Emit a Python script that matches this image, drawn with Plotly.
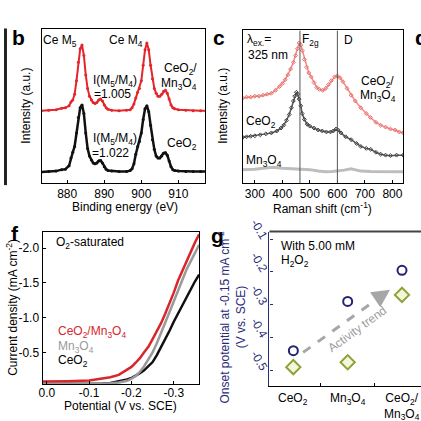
import plotly.graph_objects as go

W = 421
FONT = "Liberation Sans, Arial, sans-serif"
FS = 12

# ---------------- Panel b data (EELS) ----------------
b_energy = [873, 875, 877, 878.5, 879.5, 880.5, 881, 881.5, 882, 882.5, 883, 883.5, 884, 884.5,
            885, 885.5, 886, 886.5, 887, 887.5, 888, 888.5, 889, 889.5, 890, 890.5, 891, 892,
            894, 896, 897, 897.5, 898, 898.5, 899, 899.5, 900, 900.5, 901, 901.5, 902, 902.5,
            903, 903.5, 904, 904.5, 905, 905.5, 906, 906.5, 907, 907.5, 908, 908.5, 909, 910,
            912, 914, 916, 918]
b_ceo2 = [11.5, 12, 12.5, 14, 14.5, 18, 26, 32, 38, 52, 68, 78, 81, 72,
          52, 36, 28, 24, 21, 20, 21, 23, 23.5, 21, 17, 14.5, 13, 12.5,
          12, 12, 13, 15, 20, 30, 38, 43, 52, 66, 77, 80, 74, 60,
          45, 35, 28, 26, 26, 28, 31, 31.5, 29, 23, 17, 14, 13, 12.5,
          12, 12, 12, 12]
b_comp = [75, 75.5, 76, 77.5, 78, 80, 84, 86, 92, 106, 125, 139, 143, 132,
          112, 98, 90, 86, 83.5, 82.5, 83.5, 86, 87, 85, 81, 78, 76.5, 75.5,
          75, 75.5, 76, 78, 82, 88, 94, 98, 106, 122, 138, 145, 138, 122,
          108, 98, 93, 90, 90, 92, 95, 96, 93, 87, 81, 78, 77, 76,
          75.5, 75, 75, 75]
b_ticks = [880, 890, 900, 910]

# ---------------- Panel c data (Raman) ----------------
c_comp_x = [256, 270, 285, 300, 315, 330, 345, 360, 375, 390, 400, 410, 420, 430, 440, 448, 455,
            461, 467, 473, 480, 488, 496, 505, 515, 525, 535, 547, 558, 568, 578, 590, 600, 610,
            620, 635, 650, 665, 685, 705, 720, 740, 757, 775, 793, 810, 825, 839]
c_comp_y = [88, 89, 89, 90, 90, 91, 92, 93, 96, 100, 103, 107, 112, 118, 125, 132, 139,
            145, 143, 137, 128, 120, 114, 110, 104, 99, 97, 96, 98, 102, 106, 110, 111, 109,
            105, 98, 91, 85, 78, 72, 68, 63, 60, 58, 56, 55, 53, 52]
c_ceo2_x = [256, 270, 285, 300, 320, 340, 360, 380, 395, 405, 415, 425, 433, 440, 445, 451, 456,
            461, 467, 472, 480, 490, 500, 515, 530, 545, 560, 575, 585, 595, 603, 613, 630, 650,
            670, 685, 705, 721, 740, 757, 775, 793, 815, 839]
c_ceo2_y = [47.5, 48, 48.5, 49, 50, 51, 52, 54, 57, 60, 65, 71, 78, 85, 90, 94, 92,
            87, 80, 72, 66, 61, 59, 57, 55, 54, 53, 53, 54, 56, 55, 52, 48, 45,
            41, 38, 36, 35, 32, 30, 29, 28.5, 29, 29]
c_mn_x = [256, 280, 300, 330, 367, 400, 430, 470, 500, 530, 557, 580, 600, 625, 649, 665, 685,
          720, 760, 800, 839]
c_mn_y = [14, 14.2, 14.5, 15.5, 16.5, 15.5, 15, 15, 14, 12.5, 11.7, 12, 12.5, 13.5, 15, 14, 12.5,
          12, 11.7, 11.7, 11.7]
c_ticks = [300, 400, 500, 600, 700, 800]
c_lines = [464, 600]

# ---------------- Panel f data (LSV) ----------------
f_pot = [0.01, 0.0, -0.05, -0.1, -0.13, -0.15, -0.17, -0.19, -0.2, -0.21, -0.22, -0.23, -0.24,
         -0.25, -0.26, -0.27, -0.28, -0.29, -0.30, -0.31, -0.32, -0.33, -0.34, -0.35, -0.36]
f_comp = [-0.08, -0.08, -0.085, -0.095, -0.12, -0.14, -0.175, -0.245, -0.29, -0.35, -0.415, -0.5,
          -0.58, -0.69, -0.80, -0.92, -1.06, -1.2, -1.36, -1.53, -1.67, -1.81, -1.94, -2.08, -2.2]
f_mn = [-0.05, -0.05, -0.05, -0.05, -0.05, -0.055, -0.065, -0.09, -0.12, -0.16, -0.22, -0.3,
        -0.4, -0.5, -0.63, -0.77, -0.93, -1.08, -1.24, -1.40, -1.56, -1.69, -1.81, -1.94, -2.05]
f_ceo2 = [-0.04, -0.04, -0.04, -0.045, -0.05, -0.06, -0.08, -0.11, -0.13, -0.16, -0.2, -0.24,
          -0.3, -0.36, -0.46, -0.57, -0.69, -0.81, -0.94, -1.06, -1.18, -1.3, -1.42, -1.52, -1.62]
f_xticks = [0.0, -0.1, -0.2, -0.3]
f_xtext = ["0.0", "-0.1", "-0.2", "-0.3"]
f_yticks = [-2.0, -1.5, -1.0, -0.5]
f_ytext = ["-2.0", "-1.5", "-1.0", "-0.5"]

# ---------------- Panel g data ----------------
g_cats = ["CeO<sub>2</sub>", "Mn<sub>3</sub>O<sub>4</sub>", "CeO<sub>2</sub>/<br>Mn<sub>3</sub>O<sub>4</sub>"]
g_pos = [0, 1, 2]
g_circle = [-0.44, -0.29, -0.195]
g_diamond = [-0.49, -0.475, -0.27]
g_yticks = [-0.1, -0.2, -0.3, -0.4, -0.5]
g_ytext = ["-0.1", "-0.2", "-0.3", "-0.4", "-0.5"]


def dx(a, b):
    return [a / W, b / W]


def dy(top, bottom):
    return [1 - bottom / W, 1 - top / W]


def px(x):
    return x / W


def py(y):
    return 1 - y / W


fig = go.Figure()

# panel b
fig.add_trace(go.Scatter(x=b_energy, y=b_comp, mode="lines+markers", line=dict(color="#e3262b", width=2),
                         marker=dict(size=3, color="#e3262b"), xaxis="x", yaxis="y", showlegend=False))
fig.add_trace(go.Scatter(x=b_energy, y=b_ceo2, mode="lines+markers", line=dict(color="#111111", width=2.5),
                         marker=dict(size=3, color="#111111"), xaxis="x", yaxis="y", showlegend=False))

# panel c
fig.add_trace(go.Scatter(x=c_comp_x, y=c_comp_y, mode="lines+markers", line=dict(color="#f08a86", width=1.5),
                         marker=dict(size=3, symbol="diamond-open", color="#e86f6a"), xaxis="x2", yaxis="y2",
                         showlegend=False))
fig.add_trace(go.Scatter(x=c_ceo2_x, y=c_ceo2_y, mode="lines+markers", line=dict(color="#555555", width=1.5),
                         marker=dict(size=3, symbol="diamond-open", color="#444444"), xaxis="x2", yaxis="y2",
                         showlegend=False))
fig.add_trace(go.Scatter(x=c_mn_x, y=c_mn_y, mode="lines", line=dict(color="#bdbdbd", width=3),
                         xaxis="x2", yaxis="y2", showlegend=False))

# panel f
fig.add_trace(go.Scatter(x=f_pot, y=f_ceo2, mode="lines", line=dict(color="#111111", width=2.5),
                         xaxis="x3", yaxis="y3", showlegend=False))
fig.add_trace(go.Scatter(x=f_pot, y=f_mn, mode="lines", line=dict(color="#9a9a9a", width=2.5),
                         xaxis="x3", yaxis="y3", showlegend=False))
fig.add_trace(go.Scatter(x=f_pot, y=f_comp, mode="lines", line=dict(color="#d7262c", width=2.5),
                         xaxis="x3", yaxis="y3", showlegend=False))

# panel g
fig.add_trace(go.Scatter(x=g_pos, y=g_circle, mode="markers",
                         marker=dict(symbol="circle", size=9, color="white", line=dict(color="#23236e", width=2)),
                         xaxis="x4", yaxis="y4", showlegend=False))
fig.add_trace(go.Scatter(x=g_pos, y=g_diamond, mode="markers",
                         marker=dict(symbol="diamond", size=11, color="#f4f6dc", line=dict(color="#8fa23a", width=2)),
                         xaxis="x4", yaxis="y4", showlegend=False))

axis_common = dict(showline=True, linecolor="black", linewidth=1.2, mirror=True, ticks="inside",
                   ticklen=3, tickcolor="black", showgrid=False, zeroline=False,
                   tickfont=dict(family=FONT, size=FS, color="black"))
axis_noticks = {k: v for k, v in axis_common.items() if k != "ticks"}

fig.update_layout(
    width=W, height=W, margin=dict(l=0, r=0, t=0, b=0),
    paper_bgcolor="white", plot_bgcolor="white",
    font=dict(family=FONT, size=FS, color="black"),
    xaxis=dict(domain=dx(38, 203), range=[873.1, 917.2], tickvals=b_ticks, anchor="y",
               ticklabelstandoff=-1, **axis_common),
    yaxis=dict(domain=dy(16, 175), range=[0, 159], showticklabels=False, anchor="x", ticks="", **axis_noticks),
    xaxis2=dict(domain=dx(241, 403), range=[256, 839], tickvals=c_ticks, anchor="y2",
                ticklabelstandoff=-1, **axis_common),
    yaxis2=dict(domain=dy(17, 175), range=[0, 158], showticklabels=False, anchor="x2", ticks="", **axis_noticks),
    xaxis3=dict(domain=dx(39, 197), range=[0.01, -0.36], tickvals=f_xticks, ticktext=f_xtext, anchor="y3",
                ticklabelstandoff=-3, **axis_common),
    yaxis3=dict(domain=dy(225, 383), range=[-0.04, -2.24], tickvals=f_yticks, ticktext=f_ytext, anchor="x3",
                **axis_common),
    xaxis4=dict(domain=dx(268, 421), range=[-0.44, 2.35], tickvals=[0.5, 1.5], showticklabels=False,
                anchor="y4", showline=True, linecolor="black", linewidth=1.2, mirror=False, ticks="inside",
                ticklen=3, tickcolor="black", showgrid=False, zeroline=False),
    yaxis4=dict(domain=dy(225, 385), range=[-0.548, -0.077], tickvals=g_yticks, ticktext=g_ytext, anchor="x4",
                showline=True, linecolor="#2a2a78", linewidth=1.2, mirror=False, ticks="inside", ticklen=3,
                tickcolor="#2a2a78", showgrid=False, zeroline=False, tickangle=60,
                tickfont=dict(family=FONT, size=FS, color="#2a2a78")),
)

shapes = []
# remnant of panel a at the left edge
shapes.append(dict(type="rect", xref="paper", yref="paper", x0=0, x1=px(3), y0=py(177), y1=py(15),
                   fillcolor="#222222", line=dict(width=0)))
# vertical marker lines in panel c
for v in c_lines:
    shapes.append(dict(type="line", xref="x2", yref="y2", x0=v, x1=v, y0=0, y1=158,
                       line=dict(color="#555555", width=1)))
# top border of panel g
shapes.append(dict(type="line", xref="paper", yref="paper", x0=px(268), x1=1, y0=py(225), y1=py(225),
                   line=dict(color="#444444", width=2)))
# dashed trend arrow shaft in panel g
shapes.append(dict(type="line", xref="x4", yref="y4", x0=0.18, y0=-0.445, x1=1.6, y1=-0.276,
                   line=dict(color="#a6a6a6", width=3, dash="dash")))
fig.update_layout(shapes=shapes)

ann = []


def text(x, y, s, size=FS, color="black", xanchor="center", bold=False, angle=0):
    if bold:
        s = "<b>" + s + "</b>"
    ann.append(dict(x=px(x), y=py(y), xref="paper", yref="paper", text=s, showarrow=False,
                    xanchor=xanchor, yanchor="middle", textangle=angle,
                    font=dict(family=FONT, size=size, color=color)))


# panel letters
text(15, 24, "b", size=21, bold=True)
text(217, 24, "c", size=21, bold=True)
text(413, 24, "d", size=21, bold=True, xanchor="left")
text(11, 227, "f", size=21, bold=True)
text(216, 229, "g", size=21, bold=True)

# panel b texts
text(57, 28, "Ce M<sub>5</sub>")
text(123, 28, "Ce M<sub>4</sub>")
text(112, 69, "I(M<sub>5</sub>/M<sub>4</sub>)")
text(110, 83, "=1.005")
text(112, 129, "I(M<sub>5</sub>/M<sub>4</sub>)")
text(108, 144, "=1.022")
text(178, 57, "CeO<sub>2</sub>/")
text(177, 72, "Mn<sub>3</sub>O<sub>4</sub>")
text(180, 134, "CeO<sub>2</sub>")
text(122, 200, "Binding energy (eV)")
text(22, 95, "Intensity (a.u.)", angle=-90)

# panel c texts
text(243, 27, "λ<sub>ex.</sub>=", xanchor="left")
text(244, 42, "325 nm", xanchor="left")
text(299, 27, "F<sub>2g</sub>", xanchor="left")
text(341, 27, "D", xanchor="left")
text(377, 70, "CeO<sub>2</sub>/")
text(378, 85, "Mn<sub>3</sub>O<sub>4</sub>")
text(242, 112, "CeO<sub>2</sub>", xanchor="left")
text(242, 152, "Mn<sub>3</sub>O<sub>4</sub>", xanchor="left")
text(322, 201, "Raman shift (cm<sup>-1</sup>)")
text(221, 95, "Intensity (a.u.)", angle=-90)

# panel f texts
text(50, 237, "O<sub>2</sub>-saturated", xanchor="left")
text(53, 329, "CeO<sub>2</sub>/Mn<sub>3</sub>O<sub>4</sub>", color="#d7262c", xanchor="left")
text(53, 344, "Mn<sub>3</sub>O<sub>4</sub>", color="#9a9a9a", xanchor="left")
text(53, 359, "CeO<sub>2</sub>", xanchor="left")
text(118, 405, "Potential (V vs. SCE)")
text(8, 303, "Current density (mA cm<sup>-2</sup>)", angle=-90)

# panel g texts
text(278, 240, "With 5.00 mM", xanchor="left")
text(278, 255, "H<sub>2</sub>O<sub>2</sub>", xanchor="left")
text(222, 313, "Onset potential at -0.15 mA cm<sup>-2</sup>", color="#2a2a78", angle=-90)
text(239, 313, "(V vs. SCE)", color="#2a2a78", angle=-90)
text(357, 326, "Activity trend", color="#9c9c9c", angle=-36)
for xi, lab in zip(g_pos, g_cats):
    ann.append(dict(x=xi, y=-0.548, xref="x4", yref="y4", text=lab, showarrow=False, xanchor="center",
                    yanchor="top", yshift=-3, font=dict(family=FONT, size=FS, color="black")))

# arrow head of the trend arrow
ann.append(dict(x=1.78, y=-0.254, xref="x4", yref="y4", ax=1.55, ay=-0.280, axref="x4", ayref="y4",
                text="", showarrow=True, arrowhead=2, arrowsize=1.2, arrowwidth=3, arrowcolor="#a6a6a6"))

fig.update_layout(annotations=ann)

fig.write_html("out.html", config={"displayModeBar": False},
               post_script="document.body.style.margin='0px';document.body.style.overflow='hidden';")
